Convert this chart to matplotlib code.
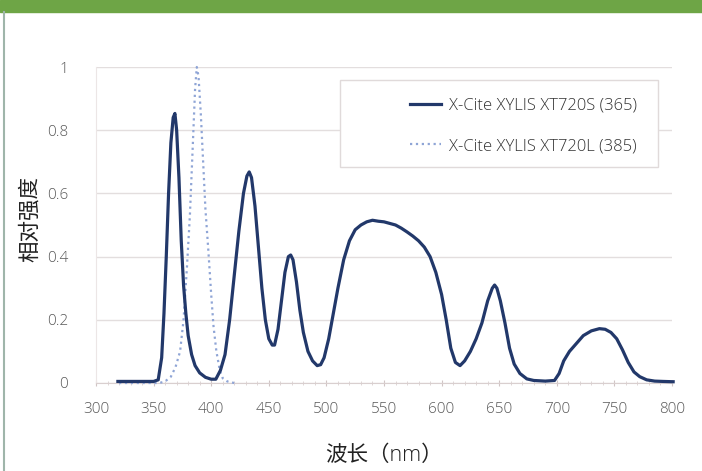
import matplotlib.pyplot as plt
from matplotlib.ticker import MultipleLocator

plt.rcParams['font.family'] = ['Open Sans', 'Noto Sans CJK SC', 'DejaVu Sans']

# XT720S (365) spectrum
wl_s = [319, 330, 340, 350, 354, 357, 359, 361, 363, 365, 367, 368.5, 370, 372, 374, 376, 378,
        380, 383, 386, 390, 395, 400, 404, 408, 412, 416, 420, 424, 428, 431, 433, 435, 438,
        441, 444, 447, 450, 453, 455, 458, 461, 464, 467, 469, 471, 474, 477, 480, 484, 488,
        492, 495, 498, 502, 506, 510, 515, 520, 525, 530, 535, 540, 545, 550, 555, 560, 565,
        570, 575, 580, 585, 590, 595, 600, 604, 608, 612, 616, 620, 625, 630, 635, 640, 644,
        646, 648, 651, 655, 659, 663, 668, 674, 680, 690, 698, 702, 706, 711, 717, 723, 730,
        737, 742, 747, 752, 757, 762, 767, 772, 778, 785, 792, 801]
int_s = [0.005, 0.005, 0.005, 0.005, 0.01, 0.08, 0.22, 0.40, 0.60, 0.76, 0.84, 0.853, 0.80, 0.65,
         0.45, 0.31, 0.22, 0.15, 0.09, 0.055, 0.032, 0.018, 0.012, 0.012, 0.04, 0.09, 0.20, 0.34,
         0.48, 0.60, 0.655, 0.668, 0.65, 0.56, 0.43, 0.30, 0.20, 0.14, 0.12, 0.12, 0.17, 0.26,
         0.35, 0.40, 0.405, 0.39, 0.32, 0.23, 0.16, 0.10, 0.07, 0.055, 0.058, 0.08, 0.14, 0.22,
         0.30, 0.39, 0.45, 0.485, 0.50, 0.51, 0.515, 0.512, 0.51, 0.505, 0.50, 0.49, 0.478, 0.465,
         0.45, 0.43, 0.40, 0.35, 0.28, 0.20, 0.11, 0.065, 0.055, 0.07, 0.10, 0.14, 0.19, 0.26,
         0.30, 0.31, 0.30, 0.26, 0.19, 0.11, 0.06, 0.03, 0.013, 0.008, 0.006, 0.008, 0.03, 0.07,
         0.10, 0.125, 0.15, 0.165, 0.172, 0.17, 0.16, 0.14, 0.105, 0.065, 0.035, 0.02, 0.01,
         0.006, 0.005, 0.004]

# XT720L (385) spectrum
wl_l = [320, 340, 355, 360, 365, 369, 373, 376, 379, 381.5, 384, 386, 387.5, 389, 391, 393, 395,
        397.5, 400, 402, 404.5, 407.5, 410, 414, 420]
int_l = [0.0, 0.0, 0.0, 0.005, 0.02, 0.05, 0.10, 0.20, 0.37, 0.53, 0.75, 0.93, 1.0, 0.97, 0.85,
         0.70, 0.55, 0.42, 0.28, 0.18, 0.10, 0.04, 0.015, 0.005, 0.0]

label_s = 'X-Cite XYLIS XT720S (365)'
label_l = 'X-Cite XYLIS XT720L (385)'

fig = plt.figure(figsize=(7.02, 4.71), dpi=100)

# green header band and left frame line
fig.patches.append(plt.Rectangle((0, 1 - 12 / 471), 1, 12 / 471, transform=fig.transFigure,
                                 color='#6ea546', zorder=0))
fig.add_artist(plt.Line2D([4 / 702, 4 / 702], [0, 1 - 12 / 471], transform=fig.transFigure,
                          color='#9fb5aa', lw=1.5))

ax = fig.add_axes([96 / 702, 88 / 471, 576 / 702, 316 / 471])
ax.plot(wl_l, int_l, color='#8fa5d6', lw=1.6, ls=':', label=label_l, clip_on=False, zorder=3)
ax.plot(wl_s, int_s, color='#22386a', lw=2.3, label=label_s, clip_on=False, zorder=4)

ax.set_xlim(300, 800)
ax.set_ylim(0, 1)
ax.set_xticks(range(300, 801, 50))
ax.set_yticks([0, 0.2, 0.4, 0.6, 0.8, 1])
ax.set_yticklabels(['0', '0.2', '0.4', '0.6', '0.8', '1'])
ax.xaxis.set_minor_locator(MultipleLocator(10))
ax.grid(axis='y', color='#e3dede', lw=1)
ax.set_axisbelow(True)

for side in ['top', 'right']:
    ax.spines[side].set_visible(False)
ax.spines['left'].set_color('#ece6e6')
ax.spines['bottom'].set_color('#d9cfcf')
ax.tick_params(axis='y', length=0, pad=20, labelsize=11, labelcolor='#595959')
ax.tick_params(axis='x', which='major', length=4, direction='inout', color='#d0c4c4',
               pad=12, labelsize=11, labelcolor='#595959')
ax.tick_params(axis='x', which='minor', length=3, direction='inout', color='#d9cfcf')
for t in ax.get_xticklabels() + ax.get_yticklabels():
    t.set_fontweight('light')

ax.set_ylabel('相对强度', fontsize=15.5, color='#222222', fontweight='light')
ax.yaxis.set_label_coords(-0.095, 0.52)
ax.set_xlabel('波长（nm）', fontsize=15.5, color='#222222', fontweight='light', labelpad=20)

# legend frame drawn by hand: the original box has a wide empty left margin
ax.add_patch(plt.Rectangle((244 / 576, 216 / 316), 318 / 576, 87 / 316, transform=ax.transAxes,
                           facecolor='white', edgecolor='#e0dada', lw=1, zorder=5))
handles, labels = ax.get_legend_handles_labels()
leg = ax.legend(handles[::-1], labels[::-1], loc='upper right', bbox_to_anchor=(0.968, 0.955),
                frameon=False, fontsize=12, borderpad=1.0, labelspacing=1.45,
                handlelength=1.9, handletextpad=0.45, borderaxespad=0)
leg.set_zorder(6)
for t in leg.get_texts():
    t.set_color('#333333')
    t.set_fontweight('light')

fig.savefig('out.png', dpi=100)
